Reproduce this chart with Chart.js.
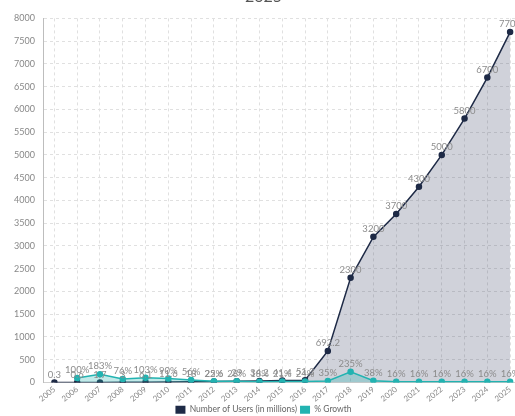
<!DOCTYPE html>
<html>
<head>
<meta charset="utf-8">
<script src="https://cdn.jsdelivr.net/npm/chart.js@4/dist/chart.umd.min.js"></script>
<style>
  html, body { margin: 0; padding: 0; background: #fff; overflow: hidden; }
  #wrap { position: relative; width: 515px; height: 416px; overflow: hidden; }
  #usersChart { position: absolute; left: 0; top: -36px; }
</style>
</head>
<body>
<div id="wrap">
  <canvas id="usersChart" width="527" height="460"></canvas>
</div>
<script>
const years = ['2005', '2006', '2007', '2008', '2009', '2010', '2011', '2012', '2013', '2014', '2015',
    '2016', '2017', '2018', '2019', '2020', '2021', '2022', '2023', '2024', '2025'];

const users = [0.3, 0.6, 1.7, 3, 6.1, 11.6, 18, 22.6, 29, 34.2, 41.4,
    51.3, 692.2, 2300, 3200, 3700, 4300, 5000, 5800, 6700, 7700];

// year-on-year growth in %
const growth = [null, 100, 183, 76, 103, 90, 56, 25, 28, 18, 21,
    24, 35, 235, 38, 16, 16, 16, 16, 16, 16];

const navy = '#1e2a46';
const teal = '#22b3b1';

// small plugin that writes the value above each point
const pointLabels = {
    id: 'pointLabels',
    afterDatasetsDraw(chart) {
        const ctx = chart.ctx;
        ctx.save();
        ctx.font = '9.5px Lato';
        ctx.fillStyle = '#8c8c8c';
        ctx.textAlign = 'center';
        ctx.textBaseline = 'bottom';
        chart.data.datasets.forEach((ds, i) => {
            const meta = chart.getDatasetMeta(i);
            meta.data.forEach((pt, j) => {
                const v = ds.data[j];
                if (v === null) return;
                const txt = ds.label === '% Growth' ? v + '%' : String(v);
                ctx.fillText(txt, pt.x, pt.y - 3);
            });
        });
        ctx.restore();
    }
};

const ctx = document.getElementById('usersChart').getContext('2d');
const usersChart = new Chart(ctx, {
    type: 'line',
    data: {
        labels: years,
        datasets: [{
            label: 'Number of Users (in millions)',
            data: users,
            borderColor: navy,
            backgroundColor: 'rgba(40, 52, 88, 0.22)',
            pointBackgroundColor: navy,
            pointBorderColor: navy,
            pointRadius: 2.5,
            borderWidth: 1.5,
            fill: 'origin',
            order: 2
        }, {
            label: '% Growth',
            data: growth,
            borderColor: teal,
            backgroundColor: 'rgba(34, 179, 177, 0.28)',
            pointBackgroundColor: teal,
            pointBorderColor: teal,
            pointRadius: 2.5,
            borderWidth: 1.5,
            fill: 'origin',
            order: 1
        }]
    },
    options: {
        responsive: false,
        animation: false,
        layout: { padding: 0 },
        plugins: {
            title: {
                display: true,
                text: ['Number of Users and % Growth, 2005 -', '2025'],
                color: '#555',
                font: { family: 'Lato', size: 16, weight: 'normal' },
                padding: { top: 4, bottom: 12 }
            },
            legend: {
                position: 'bottom',
                labels: {
                    color: '#666',
                    font: { family: 'Lato', size: 8.5 },
                    boxWidth: 10,
                    boxHeight: 8,
                    padding: 3,
                    sort: (a, b) => a.datasetIndex - b.datasetIndex,
                    generateLabels: (chart) => chart.data.datasets.map((ds, i) => ({
                        text: ds.label,
                        fillStyle: ds.borderColor,
                        strokeStyle: ds.borderColor,
                        lineWidth: 0,
                        datasetIndex: i,
                        fontColor: '#666'
                    }))
                }
            },
            tooltip: { enabled: false }
        },
        scales: {
            x: {
                offset: true,
                grid: { color: '#e0e0e0', drawTicks: false },
                border: { color: '#cfcfcf', dash: [3, 3] },
                ticks: {
                    color: '#888',
                    font: { family: 'Lato', size: 8 },
                    maxRotation: 40,
                    minRotation: 40,
                    autoSkip: false,
                    padding: 2
                },
                afterFit: (s) => { s.height = 20; }
            },
            y: {
                min: 0,
                max: 8000,
                grid: { color: '#e0e0e0', drawTicks: false },
                border: { color: '#bdbdbd', dash: [3, 3] },
                ticks: {
                    stepSize: 500,
                    color: '#888',
                    font: { family: 'Lato', size: 9 },
                    padding: 8,
                    callback: (v) => String(v)
                },
                afterFit: (s) => { s.width = 43; }
            }
        }
    },
    plugins: [pointLabels]
});
</script>
</body>
</html>
